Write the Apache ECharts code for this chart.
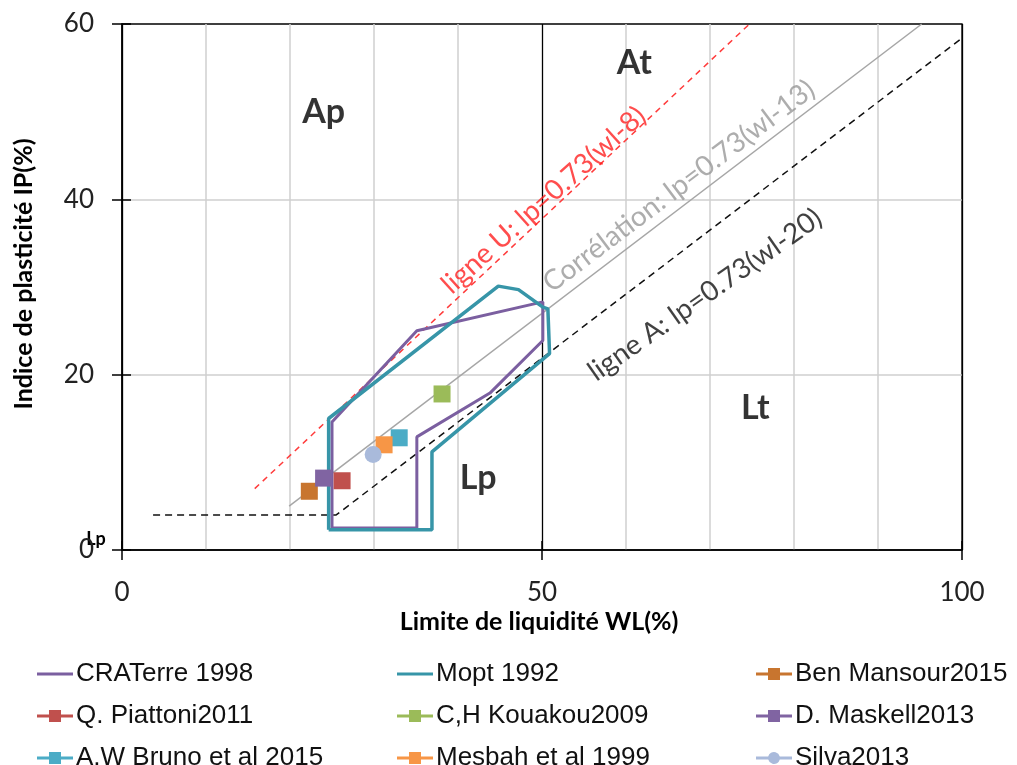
<!DOCTYPE html>
<html>
<head>
<meta charset="utf-8">
<title>Abaque de plasticité</title>
<script src="https://cdn.jsdelivr.net/npm/echarts@6/dist/echarts.min.js"></script>
<style>
  html, body { margin: 0; background: #fff; }
  #chart { width: 1017px; height: 765px; }
</style>
</head>
<body>
<div id="chart"></div>
<script>
"use strict";

const craterreWL = [25, 25, 35.1, 50.1, 50.1, 43.8, 35.1, 35.1, 25];
const craterreIP = [2.5, 14.6, 25, 28.3, 23.9, 17.9, 12.9, 2.5, 2.5];
const moptWL = [24.6, 24.6, 44.8, 47.2, 50.1, 50.7, 50.9, 36.9, 36.9, 24.6];
const moptIP = [2.3, 15, 30.1, 29.7, 27.7, 27.5, 22.4, 11.2, 2.3, 2.3];

// published soils
const sampleNames = ["Ben Mansour2015", "Q. Piattoni2011", "C,H Kouakou2009", "D. Maskell2013",
  "A,W Bruno et al 2015", "Mesbah et al 1999", "Silva2013"];
const sampleWL = [22.3, 26.2, 38.1, 24.0, 33.0, 31.2, 29.9];
const sampleIP = [6.7, 7.9, 17.8, 8.2, 12.8, 12.0, 10.9];

// reference lines
const uLineWL = [15.8, 74.7];
const uLineIP = [7.0, 60];
const corrWL = [19.9, 95.2];
const corrIP = [5.0, 60];
const aLineWL = [3.7, 25.5, 100];
const aLineIP = [4, 4, 58.4];

// zone names and line captions (placed in data units)
const zoneNames = ["Ap", "At", "Lt", "Lp"];
const zoneWL = [24, 61, 75.4, 42.4];
const zoneIP = [50, 55.5, 16.2, 8.2];
const captions = ["ligne U: lp=0.73(wl-8)", "Corrélation: lp=0.73(wl-13)", "ligne A: lp=0.73(wl-20)"];
const captionWL = [50.2, 66.3, 69.4];
const captionIP = [39.9, 41.5, 29.1];

// legend columns
const legendCol1 = ["CRATerre 1998", "Q. Piattoni2011", "A,W Bruno et al 2015"];
const legendCol2 = ["Mopt 1992", "C,H Kouakou2009", "Mesbah et al 1999"];
const legendCol3 = ["Ben Mansour2015", "D. Maskell2013", "Silva2013"];

const pairs = (xs, ys) => xs.map((x, i) => [x, ys[i]]);

const sampleColors = {
  "Ben Mansour2015": "#C8752F",
  "Q. Piattoni2011": "#C0504D",
  "C,H Kouakou2009": "#9BBB59",
  "D. Maskell2013": "#8064A2",
  "A,W Bruno et al 2015": "#4BACC6",
  "Mesbah et al 1999": "#F79646",
  "Silva2013": "#A9BADB"
};

const ICON_LINE = "path://M0,4.5H36V7.5H0Z";
const ICON_SQUARE = "path://M0,4.5H12V0H24V4.5H36V7.5H24V12H12V7.5H0Z";
const ICON_CIRCLE = "path://M0,4.5H12.2A6,6,0,0,1,23.8,4.5H36V7.5H23.8A6,6,0,0,1,12.2,7.5H0Z";

function iconFor(name) {
  if (name === "CRATerre 1998" || name === "Mopt 1992") return ICON_LINE;
  return name === "Silva2013" ? ICON_CIRCLE : ICON_SQUARE;
}

function legendColumn(names, left) {
  return {
    orient: "vertical",
    left: left,
    top: 661,
    height: 200,
    padding: 0,
    itemWidth: 36,
    itemHeight: 12,
    itemGap: 16,
    selectedMode: false,
    itemStyle: { borderWidth: 0 },
    textStyle: { fontFamily: "Liberation Sans", fontSize: 26, lineHeight: 24, color: "#111", padding: [0, 0, 0, -2] },
    data: names.map(name => ({ name, icon: iconFor(name) }))
  };
}

const chart = echarts.init(document.getElementById("chart"), null, { renderer: "canvas" });

const axisFont = { fontFamily: "Lato", fontSize: 26, color: "#222" };

let series = [
  {
    name: "CRATerre 1998",
    type: "line",
    data: pairs(craterreWL, craterreIP),
    showSymbol: false,
    color: "#7B5FA0",
    lineStyle: { color: "#7B5FA0", width: 3 },
    z: 3
  },
  {
    name: "Mopt 1992",
    type: "line",
    data: pairs(moptWL, moptIP),
    showSymbol: false,
    color: "#3795A8",
    lineStyle: { color: "#3795A8", width: 3.5 },
    z: 4
  },
  {
    name: "uLine",
    type: "line",
    data: pairs(uLineWL, uLineIP),
    showSymbol: false,
    silent: true,
    lineStyle: { color: "#FF3B3B", width: 1.5, type: [6, 5] },
    z: 2
  },
  {
    name: "corr",
    type: "line",
    data: pairs(corrWL, corrIP),
    showSymbol: false,
    silent: true,
    lineStyle: { color: "#A6A6A6", width: 1.5 },
    z: 2
  },
  {
    name: "aLine",
    type: "line",
    data: pairs(aLineWL, aLineIP),
    showSymbol: false,
    silent: true,
    lineStyle: { color: "#111", width: 1.5, type: [7, 5] },
    z: 2
  }
];

sampleNames.forEach((name, i) => {
  series.push({
    name,
    type: "scatter",
    data: [[sampleWL[i], sampleIP[i]]],
    symbol: name === "Silva2013" ? "circle" : "rect",
    symbolSize: 17,
    color: sampleColors[name],
    itemStyle: { color: sampleColors[name], opacity: 1 },
    z: 5
  });
});

series.push({
  name: "zones",
  type: "scatter",
  silent: true,
  symbolSize: 1,
  itemStyle: { color: "transparent" },
  label: {
    show: true,
    position: "inside",
    fontFamily: "Lato",
    fontWeight: "bold",
    fontSize: 34,
    color: "#000"
  },
  data: zoneNames.map((n, i) => ({ value: [zoneWL[i], zoneIP[i]], label: { formatter: n } })),
  z: 6
});

const captionColors = ["#FF2020", "#999999", "#111111"];
const captionRotate = [42, 37, 35];
series.push({
  name: "captions",
  type: "scatter",
  silent: true,
  symbolSize: 1,
  itemStyle: { color: "transparent" },
  label: { show: true, position: "inside", fontFamily: "Lato", fontSize: 28 },
  data: captions.map((c, i) => ({
    value: [captionWL[i], captionIP[i]],
    label: { formatter: c, color: captionColors[i], rotate: captionRotate[i] }
  })),
  z: 6
});

chart.setOption({
  animation: false,
  grid: {
    left: 122, right: 55, top: 24, bottom: 215,
    show: true, borderColor: "#000", borderWidth: 1.3, backgroundColor: "transparent"
  },
  legend: [legendColumn(legendCol1, 37), legendColumn(legendCol2, 397), legendColumn(legendCol3, 756)],
  xAxis: [
    {
      type: "value", min: 0, max: 100, interval: 50, position: "bottom",
      axisLine: { show: true, lineStyle: { color: "#000", width: 1.5 } },
      axisTick: { show: true, length: 10, lineStyle: { color: "#000", width: 1.5 } },
      axisLabel: Object.assign({ margin: 30 }, axisFont),
      splitLine: { show: true, lineStyle: { color: "#000", width: 1.3 } },
      minorTick: { show: false, splitNumber: 5 },
      minorSplitLine: { show: true, lineStyle: { color: "#CFCFCF", width: 1.5 } }
    },
    {
      type: "value", min: 0, max: 100, interval: 50, position: "bottom",
      axisLine: { show: false },
      axisTick: { show: true, inside: true, length: 9, lineStyle: { color: "#000", width: 1.5 } },
      axisLabel: { show: false },
      splitLine: { show: false }
    }
  ],
  yAxis: [
    {
      type: "value", min: 0, max: 60, interval: 20, position: "left",
      axisLine: { show: true, lineStyle: { color: "#000", width: 1.5 } },
      axisTick: { show: true, length: 10, lineStyle: { color: "#000", width: 1.5 } },
      axisLabel: Object.assign({ margin: 28 }, axisFont),
      splitLine: { show: true, showMinLine: false, showMaxLine: false, lineStyle: { color: "#CFCFCF", width: 1.5 } }
    },
    {
      type: "value", min: 0, max: 60, interval: 20, position: "left",
      axisLine: { show: false },
      axisTick: { show: true, inside: true, length: 9, lineStyle: { color: "#000", width: 1.5 } },
      axisLabel: { show: false },
      splitLine: { show: false }
    }
  ],
  graphic: [
    {
      type: "text", x: 539, y: 622,
      style: { text: "Limite de liquidité WL(%)", fontFamily: "Lato", fontWeight: "bold", fontSize: 25,
        fill: "#000", align: "center", verticalAlign: "middle" }
    },
    {
      type: "text", x: 24, y: 274, rotation: Math.PI / 2,
      style: { text: "Indice de plasticité IP(%)", fontFamily: "Lato", fontWeight: "bold", fontSize: 25,
        fill: "#000", align: "center", verticalAlign: "middle" }
    },
    {
      type: "text", x: 96, y: 539,
      style: { text: "Lp", fontFamily: "Lato", fontWeight: "bold", fontSize: 18,
        fill: "#000", align: "center", verticalAlign: "middle" }
    }
  ],
  series
});

window.onresize = () => chart.resize();
</script>
</body>
</html>
